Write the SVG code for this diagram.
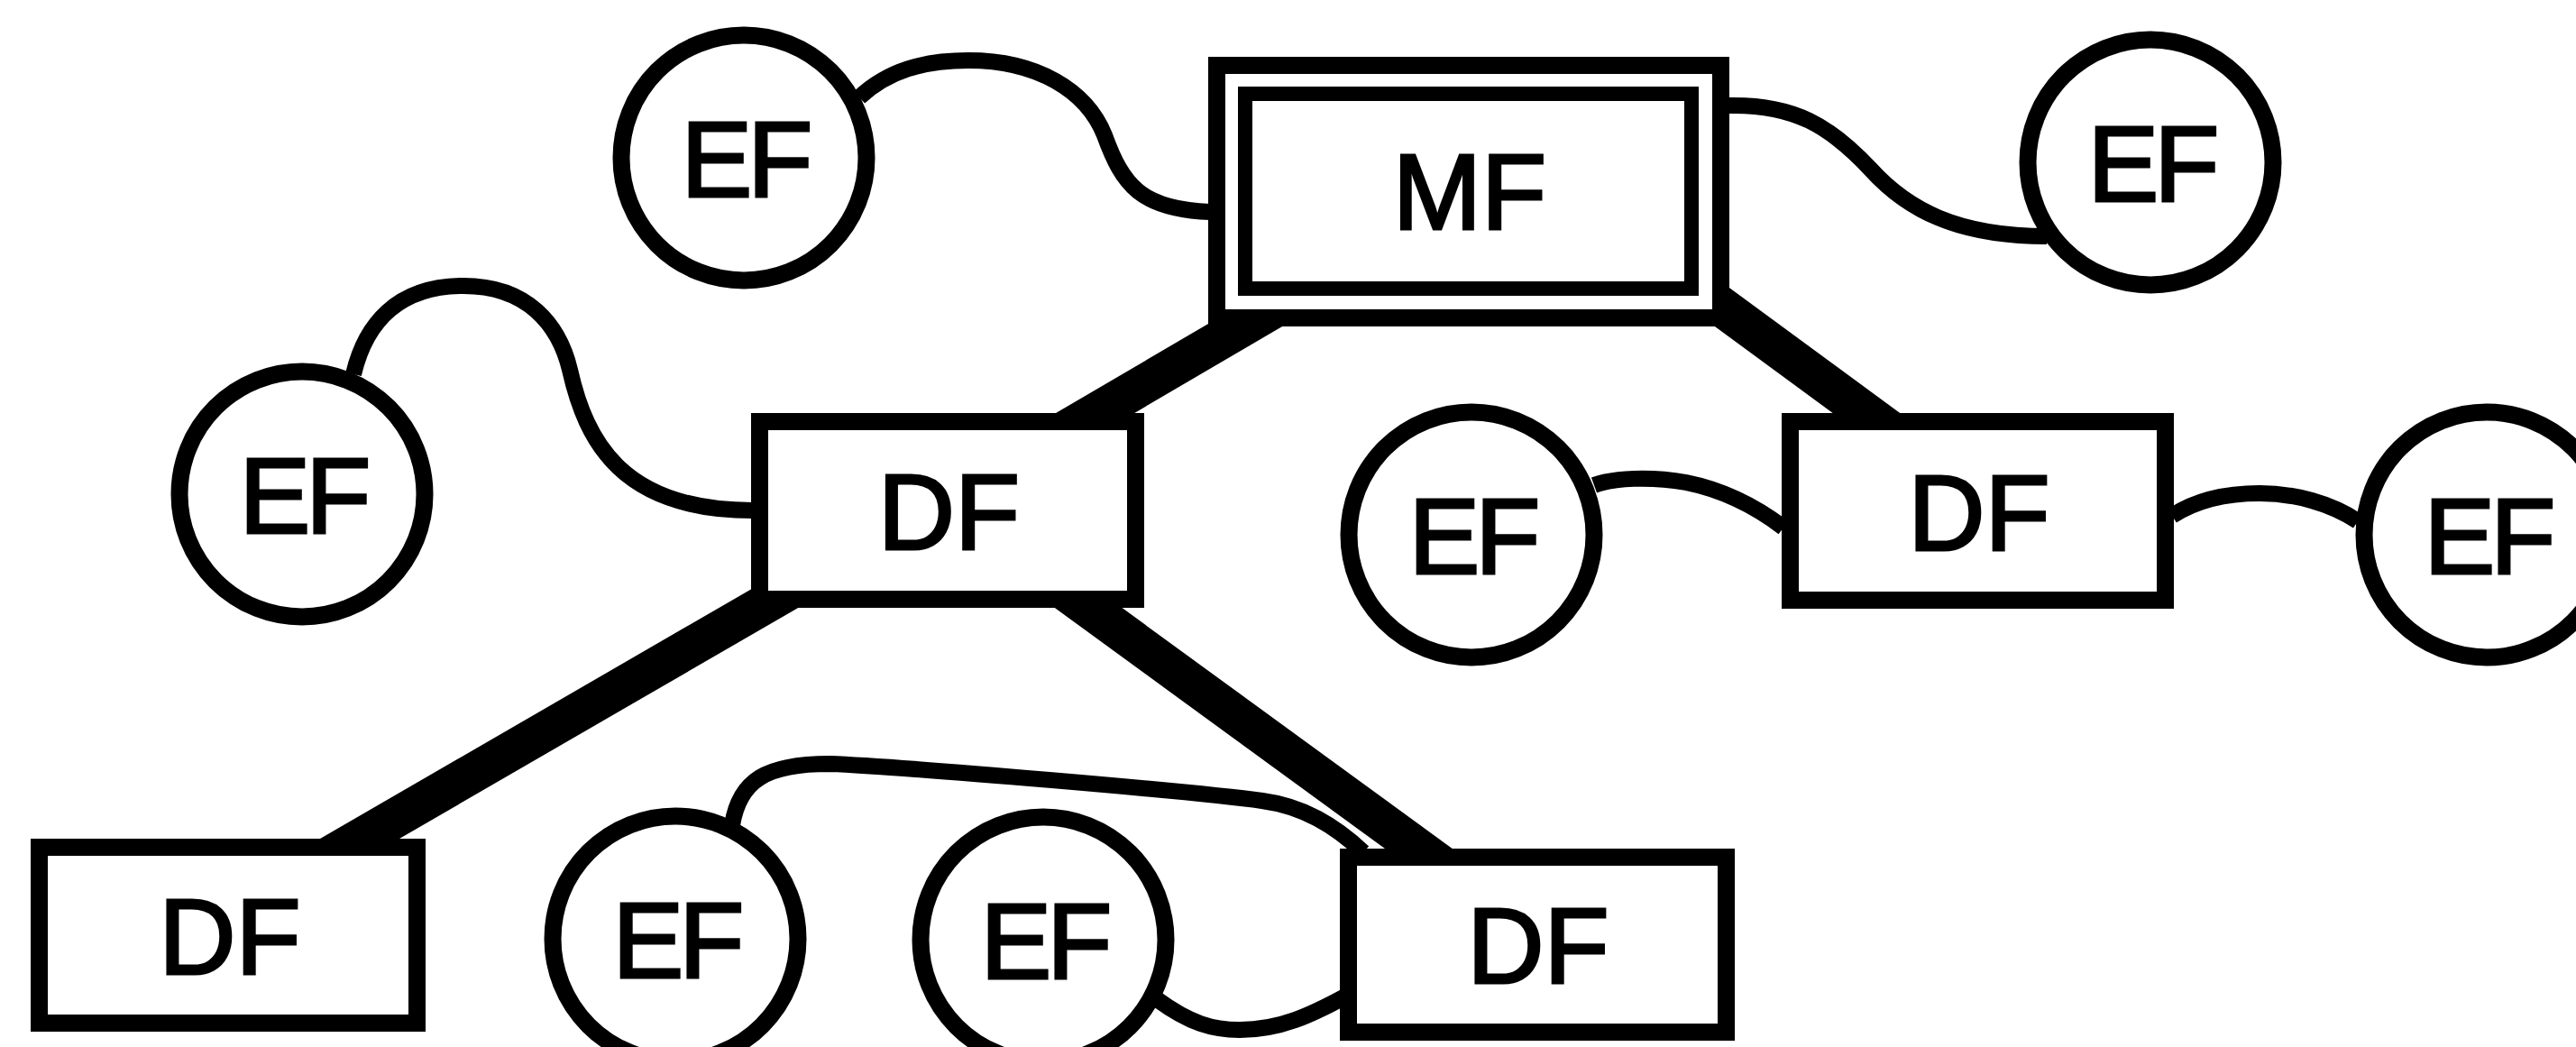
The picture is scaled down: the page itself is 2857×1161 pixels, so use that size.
<svg xmlns="http://www.w3.org/2000/svg" width="2857" height="1161" viewBox="0 0 2857 1161">
<style>
  .bg { fill: #ffffff; }
  .box { fill: #ffffff; stroke: #000000; stroke-width: 19; }
  .inner { fill: #ffffff; stroke: #000000; stroke-width: 16; }
  .ell { fill: #ffffff; stroke: #000000; stroke-width: 19; }
  .thick { fill: none; stroke: #000000; stroke-width: 44; }
  .curve { fill: none; stroke: #000000; stroke-width: 18; }
  .lbl { font-family: "Liberation Sans", Arial, sans-serif; font-size: 118px; fill: #000000; stroke: #000000; stroke-width: 3; text-anchor: middle; }
  .ef { letter-spacing: -5px; }
</style>
<rect class="bg" x="0" y="0" width="2857" height="1161"/>
<g id="connectors">
  <line class="thick" x1="1030" y1="566" x2="1635" y2="212"/>
  <line class="thick" x1="1735" y1="212" x2="2217" y2="566"/>
  <line class="thick" x1="1028" y1="566" x2="214" y2="1037"/>
  <line class="thick" x1="1059" y1="566" x2="1720" y2="1048"/>
  <path class="curve" d="M 953 108 C 985 78, 1025 67, 1074 67 C 1150 67, 1205 100, 1225 150 C 1245 205, 1265 232, 1342 235"/>
  <path class="curve" d="M 1916 117 C 1990 115, 2030 140, 2075 188 C 2115 232, 2170 262, 2270 262"/>
  <path class="curve" d="M 392 415 C 405 360, 440 317, 514 317 C 585 317, 620 360, 632 410 C 650 490, 690 566, 835 566"/>
  <path class="curve" d="M 1768 538 C 1790 530, 1830 528, 1870 535 C 1910 543, 1945 560, 1978 585"/>
  <path class="curve" d="M 2409 572 C 2435 555, 2470 547, 2506 547 C 2545 547, 2585 558, 2615 578"/>
  <path class="curve" d="M 812 915 C 820 865, 850 847, 920 847 C 1000 850, 1330 878, 1400 888 C 1445 894, 1480 915, 1512 945"/>
  <path class="curve" d="M 1283 1108 C 1320 1135, 1345 1142, 1375 1142 C 1420 1142, 1455 1125, 1492 1105"/>
</g>
<g id="mf">
  <rect class="box" x="1349.5" y="72.5" width="559" height="280"/>
  <rect class="inner" x="1381" y="104" width="495" height="216"/>
  <text class="lbl" x="1630" y="254">MF</text>
</g>
<g id="df-left">
  <rect class="box" x="842.5" y="467.5" width="417" height="197"/>
  <text class="lbl" x="1052.5" y="609">DF</text>
</g>
<g id="df-right">
  <rect class="box" x="1985.5" y="467.5" width="416" height="198"/>
  <text class="lbl" x="2195" y="609.5">DF</text>
</g>
<g id="df-bottom-left">
  <rect class="box" x="43.5" y="939.5" width="419" height="195"/>
  <text class="lbl" x="255" y="1080">DF</text>
</g>
<g id="df-bottom-right">
  <rect class="box" x="1495.5" y="950.5" width="419" height="194"/>
  <text class="lbl" x="1706" y="1090">DF</text>
</g>
<g id="ef-top-left">
  <circle class="ell" cx="825" cy="175" r="136"/>
  <text class="lbl ef" x="826" y="218">EF</text>
</g>
<g id="ef-top-right">
  <circle class="ell" cx="2385" cy="180" r="136"/>
  <text class="lbl ef" x="2386" y="223">EF</text>
</g>
<g id="ef-mid-left">
  <circle class="ell" cx="335" cy="548" r="136"/>
  <text class="lbl ef" x="336" y="591">EF</text>
</g>
<g id="ef-mid">
  <circle class="ell" cx="1632" cy="593" r="136"/>
  <text class="lbl ef" x="1633" y="636">EF</text>
</g>
<g id="ef-far-right">
  <circle class="ell" cx="2758" cy="593" r="136"/>
  <text class="lbl ef" x="2759" y="636">EF</text>
</g>
<g id="ef-bottom-1">
  <circle class="ell" cx="749" cy="1041" r="136"/>
  <text class="lbl ef" x="750" y="1084">EF</text>
</g>
<g id="ef-bottom-2">
  <circle class="ell" cx="1157" cy="1042" r="136"/>
  <text class="lbl ef" x="1158" y="1085">EF</text>
</g>
</svg>
